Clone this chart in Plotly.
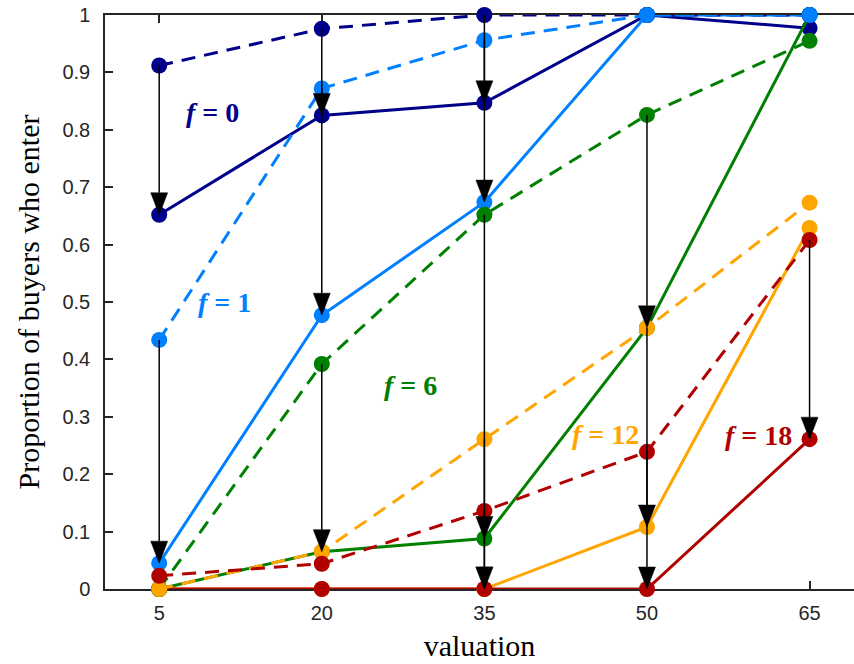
import plotly.graph_objects as go

# Valuations on the x axis
valuation = [5, 20, 35, 50, 65]

# Entry-fee levels, one colour per fee
fees = [0, 1, 6, 12, 18]
colors = ["#00008B", "#0080FF", "#008000", "#FFA500", "#B00000"]

# Proportion entering: baseline (dashed) and with the fee (solid)
baseline = {
    0: [0.912, 0.976, 1.000, 1.000, 1.000],
    1: [0.434, 0.872, 0.956, 1.000, 1.000],
    6: [0.000, 0.392, 0.652, 0.826, 0.955],
    12: [0.000, 0.065, 0.261, 0.455, 0.673],
    18: [0.023, 0.044, 0.136, 0.239, 0.608],
}
with_fee = {
    0: [0.652, 0.825, 0.847, 1.000, 0.977],
    1: [0.045, 0.477, 0.674, 1.000, 1.000],
    6: [0.000, 0.065, 0.088, 0.455, 1.000],
    12: [0.000, 0.000, 0.000, 0.108, 0.629],
    18: [0.000, 0.000, 0.000, 0.000, 0.261],
}

# Fee label placement (data coordinates)
label_x = [9.9, 11.0, 28.2, 46.2, 60.3]
label_y = [0.831, 0.50, 0.355, 0.27, 0.268]

y_ticks = [0, 0.1, 0.2, 0.3, 0.4, 0.5, 0.6, 0.7, 0.8, 0.9, 1]
y_tick_text = ["0", "0.1", "0.2", "0.3", "0.4", "0.5", "0.6", "0.7", "0.8", "0.9", "1"]

X_RANGE = [0, 69.1]
Y_RANGE = [0, 1]

W, H = 854, 664
M = dict(l=105, r=0, t=15, b=75)
plot_w = W - M["l"] - M["r"]
plot_h = H - M["t"] - M["b"]
px_x = plot_w / (X_RANGE[1] - X_RANGE[0])
px_y = plot_h / (Y_RANGE[1] - Y_RANGE[0])

LW = 3
MS = 16

fig = go.Figure()

# Solid lines (with fee) first, then dashed baselines on top
for f, c in zip(fees, colors):
    fig.add_trace(go.Scatter(
        x=valuation, y=with_fee[f], mode="lines+markers",
        line=dict(color=c, width=LW),
        marker=dict(color=c, size=MS, line=dict(width=0)),
        cliponaxis=False, showlegend=False,
    ))
for f, c in zip(fees, colors):
    fig.add_trace(go.Scatter(
        x=valuation, y=baseline[f], mode="lines+markers",
        line=dict(color=c, width=LW, dash="14px,9px"),
        marker=dict(color=c, size=MS, line=dict(width=0)),
        cliponaxis=False, showlegend=False,
    ))

# Arrows from baseline to with-fee value where entry drops noticeably
head_len = 22 / px_y
head_half = 8.5 / px_x
shaft_x, shaft_y, head_x, head_y = [], [], [], []
for f in fees:
    for v, y0, y1 in zip(valuation, baseline[f], with_fee[f]):
        if y0 - y1 > 0.1:
            shaft_x += [v, v, None]
            shaft_y += [y0, y1 + head_len, None]
            head_x += [v - head_half, v + head_half, v, v - head_half, None]
            head_y += [y1 + head_len, y1 + head_len, y1, y1 + head_len, None]

fig.add_trace(go.Scatter(
    x=shaft_x, y=shaft_y, mode="lines",
    line=dict(color="black", width=1.5),
    cliponaxis=False, showlegend=False, hoverinfo="skip",
))
fig.add_trace(go.Scatter(
    x=head_x, y=head_y, mode="lines", fill="toself",
    fillcolor="black", line=dict(color="black", width=0.5),
    cliponaxis=False, showlegend=False, hoverinfo="skip",
))

# Fee labels
for f, c, lx, ly in zip(fees, colors, label_x, label_y):
    fig.add_annotation(
        x=lx, y=ly, xref="x", yref="y", showarrow=False,
        text=f"<b><i>f</i> = {f}</b>",
        font=dict(family="Liberation Serif", size=28, color=c),
    )

axis_color = "#262626"
fig.update_layout(
    width=W, height=H, margin=M,
    paper_bgcolor="white", plot_bgcolor="white",
    xaxis=dict(
        range=X_RANGE, tickvals=valuation, ticktext=[str(v) for v in valuation],
        ticks="inside", ticklen=8, tickwidth=1.5, tickcolor=axis_color,
        showline=True, linecolor=axis_color, linewidth=1.5, mirror="ticks",
        showgrid=False, zeroline=False, layer="below traces",
        tickfont=dict(family="Liberation Sans", size=20, color=axis_color),
        ticklabelstandoff=5,
        title=dict(text="valuation", standoff=12,
                   font=dict(family="Liberation Serif", size=30, color="black")),
    ),
    yaxis=dict(
        range=Y_RANGE, tickvals=y_ticks, ticktext=y_tick_text,
        ticks="inside", ticklen=8, tickwidth=1.5, tickcolor=axis_color,
        showline=True, linecolor=axis_color, linewidth=1.5,
        showgrid=False, zeroline=False, layer="below traces",
        tickfont=dict(family="Liberation Sans", size=20, color=axis_color),
        ticklabelstandoff=9,
        title=dict(text="Proportion of buyers who enter", standoff=14,
                   font=dict(family="Liberation Serif", size=30, color="black")),
    ),
)

fig.write_html("out.html")
